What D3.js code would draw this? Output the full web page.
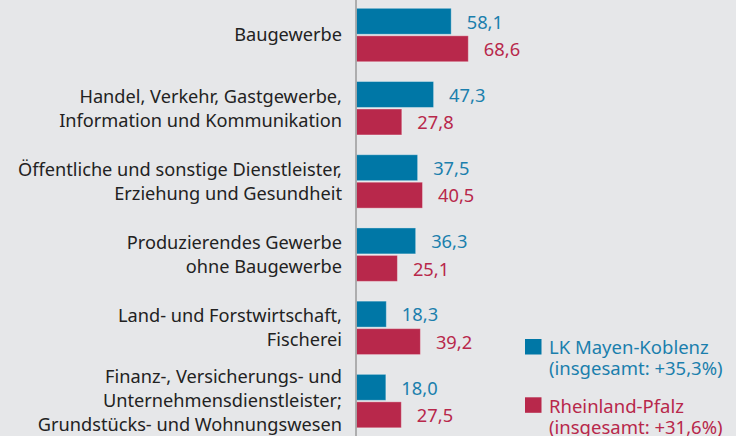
<!DOCTYPE html>
<html>
<head>
<meta charset="utf-8">
<script src="https://cdn.jsdelivr.net/npm/d3@7"></script>
<style>
  html, body { margin: 0; padding: 0; background: #e6e7e9; }
  svg { display: block; font-family: "Noto Sans", "Open Sans", sans-serif; }
</style>
</head>
<body>
<svg id="chart" width="736" height="436"></svg>
<script>
// categories (line breaks as in the original)
const categories = [
    [ "Baugewerbe" ],
    [ "Handel, Verkehr, Gastgewerbe,", "Information und Kommunikation" ],
    [ "Öffentliche und sonstige Dienstleister,", "Erziehung und Gesundheit" ],
    [ "Produzierendes Gewerbe", "ohne Baugewerbe" ],
    [ "Land- und Forstwirtschaft,", "Fischerei" ],
    [ "Finanz-, Versicherungs- und", "Unternehmensdienstleister;", "Grundstücks- und Wohnungswesen" ]
];
const seriesNames = [ "LK Mayen-Koblenz", "Rheinland-Pfalz" ];
const seriesTotals = [ "(insgesamt: +35,3%)", "(insgesamt: +31,6%)" ];
const valuesMYK = [ 58.1, 47.3, 37.5, 36.3, 18.3, 18.0 ];
const valuesRLP = [ 68.6, 27.8, 40.5, 25.1, 39.2, 27.5 ];

const barColors  = [ "#0077a6", "#b8284b" ];
const textColors = [ "#1b7fad", "#b8284b" ];

window.addEventListener( "load", makeChart );
function makeChart() {
    var svg = d3.select( "#chart" );
    var fmt = v => d3.format( ".1f" )(v).replace( ".", "," );

    var keys = categories.map( (c,i) => i );
    var y = d3.scaleBand().domain( keys )
        .range( [ 8.3, 427.8 ] ).paddingInner( 0.27 ).paddingOuter( 0 );
    var ys = d3.scaleBand().domain( [0,1] )
        .range( [ 0, y.bandwidth() ] ).paddingInner( 0.055 );
    var x = d3.scaleLinear().domain( [ 0, 100 ] ).range( [ 356.5, 519.5 ] );

    var data = keys.map( i => ( { i: i, vals: [ valuesMYK[i], valuesRLP[i] ] } ) );

    var g = svg.selectAll( "g.grp" ).data( data ).enter().append( "g" )
        .attr( "class", "grp" )
        .attr( "transform", d => "translate(0," + y(d.i) + ")" );

    g.selectAll( "rect" ).data( d => d.vals ).enter().append( "rect" )
        .attr( "x", x(0) ).attr( "y", (v,j) => ys(j) )
        .attr( "width", v => x(v) - x(0) ).attr( "height", ys.bandwidth() )
        .attr( "fill", (v,j) => barColors[j] )
        .attr( "stroke", "#ffffff" ).attr( "stroke-opacity", 0.35 ).attr( "stroke-width", 1 );

    g.selectAll( "text.val" ).data( d => d.vals ).enter().append( "text" )
        .attr( "class", "val" )
        .attr( "x", v => x(v) + 15.5 ).attr( "y", (v,j) => ys(j) + ys.bandwidth()/2 )
        .attr( "dy", "0.4em" )
        .attr( "font-size", 18.3 ).attr( "fill", (v,j) => textColors[j] )
        .text( v => fmt(v) );

    // category labels, vertically centred on the group
    var lh = 24;
    svg.selectAll( "text.cat" ).data( keys ).enter().append( "text" )
        .attr( "class", "cat" )
        .attr( "text-anchor", "end" ).attr( "font-size", 18.2 ).attr( "fill", "#222" )
        .each( function(i) {
            var lines = categories[i];
            var cy = y(i) + y.bandwidth()/2 - (lines.length - 1) * lh / 2;
            d3.select( this ).selectAll( "tspan" ).data( lines ).enter().append( "tspan" )
                .attr( "x", 342 ).attr( "y", (l,k) => cy + k*lh ).attr( "dy", "0.35em" )
                .text( l => l );
        } );

    // axis line
    svg.append( "line" )
        .attr( "x1", 356 ).attr( "x2", 356 ).attr( "y1", 0 ).attr( "y2", 436 )
        .attr( "stroke", "#9a9a9a" ).attr( "stroke-width", 1.5 );

    // legend
    var legY = [ 339, 397.3 ];
    var leg = svg.selectAll( "g.leg" ).data( [0,1] ).enter().append( "g" )
        .attr( "class", "leg" )
        .attr( "transform", j => "translate(525," + legY[j] + ")" );
    leg.append( "rect" ).attr( "width", 16.5 ).attr( "height", 15.5 )
        .attr( "fill", j => barColors[j] );
    leg.append( "text" ).attr( "font-size", 18.5 ).attr( "fill", j => textColors[j] )
        .each( function(j) {
            d3.select( this ).selectAll( "tspan" ).data( [ seriesNames[j], seriesTotals[j] ] )
                .enter().append( "tspan" )
                .attr( "x", 24 ).attr( "y", (l,k) => 15.3 + k*21 )
                .text( l => l );
        } );
}
</script>
</body>
</html>
